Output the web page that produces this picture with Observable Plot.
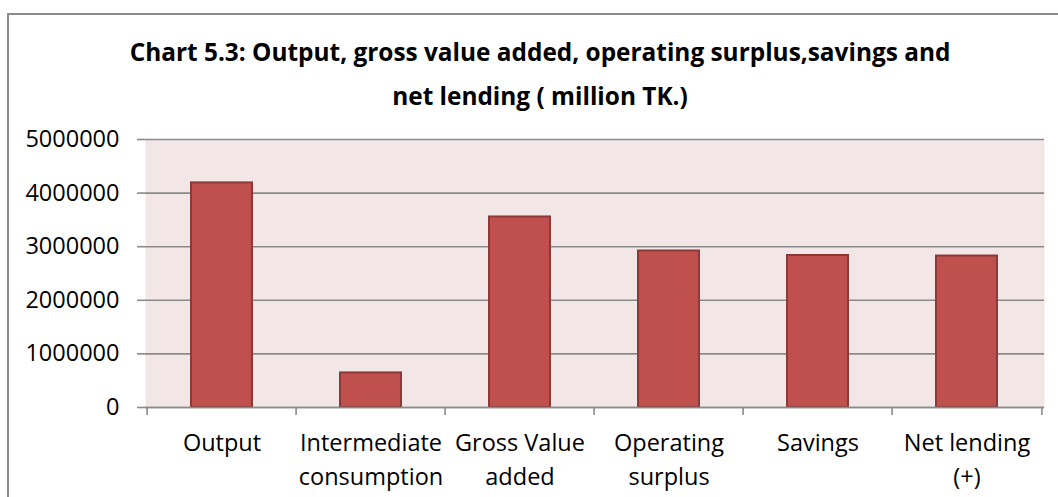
<!DOCTYPE html>
<html>
<head>
<meta charset="utf-8">
<script src="https://cdn.jsdelivr.net/npm/d3@7"></script>
<script src="https://cdn.jsdelivr.net/npm/@observablehq/plot@0.6"></script>
<style>
  html, body { margin: 0; padding: 0; background: #fff; overflow: hidden; width: 1058px; height: 497px; }
  #wrap { position: relative; width: 1058px; height: 497px; }
  #border { position: absolute; left: 7px; top: 13px; width: 1100px; height: 600px; border: 2px solid #8c8c8c; box-sizing: border-box; pointer-events: none; }
  #title { position: absolute; left: 0; top: 30px; width: 1080px; text-align: center; font-family: "Open Sans", sans-serif; font-weight: bold; font-size: 24.4px; line-height: 44px; color: #000; }
  #chart { position: absolute; left: 0; top: 105px; }
</style>
</head>
<body>
<div id="wrap">
  <div id="border"></div>
  <div id="title">Chart 5.3: Output, gross value added, operating surplus,savings and<br>net lending ( million TK.)</div>
  <div id="chart"></div>
</div>
<script>
const categories = ["Output", "Intermediate consumption", "Gross Value added", "Operating surplus", "Savings", "Net lending (+)"];
const tickLabels = ["Output", "Intermediate\nconsumption", "Gross Value\nadded", "Operating\nsurplus", "Savings", "Net lending\n(+)"];
const values = [4190000, 645000, 3555000, 2920000, 2836000, 2826000];
const yTicks = [0, 1000000, 2000000, 3000000, 4000000, 5000000];

const data = categories.map((c, i) => ({category: c, value: values[i]}));
const labelOf = new Map(categories.map((c, i) => [c, tickLabels[i]]));

const W = 1058, H = 392;
const mL = 145, mR = 14, mT = 34, mB = 90;
const step = (W - mL - mR) / categories.length;
const gray = "#8a8a8a";
const fs = 23.5;

const chart = Plot.plot({
  width: W,
  height: H,
  marginLeft: mL,
  marginRight: mR,
  marginTop: mT,
  marginBottom: mB,
  style: {fontFamily: "'Open Sans', sans-serif", fontSize: fs + "px", color: "#000", background: "transparent"},
  x: {domain: categories, paddingInner: 0.59, paddingOuter: 0.295, label: null},
  y: {domain: [0, 5000000], ticks: yTicks, label: null},
  marks: [
    Plot.frame({fill: "#f2e7e6", stroke: null}),
    Plot.gridY(yTicks, {stroke: gray, strokeOpacity: 1, strokeWidth: 1.6}),
    Plot.barY(data, {x: "category", y: "value", fill: "#c0504d", stroke: "#8b3a38", strokeWidth: 2}),
    Plot.ruleY([0], {stroke: gray, strokeWidth: 1.6}),
    Plot.ruleX([0], {x: () => null, frameAnchor: "left", stroke: gray, strokeWidth: 1.6}),
    Plot.axisY(yTicks, {tickSize: 8, tickPadding: 18, stroke: gray, strokeWidth: 1.6, tickFormat: d => String(d), fontSize: fs, fill: "#000"}),
    Plot.ruleX(categories, {x: d => d, dx: -step / 2, y1: 0, y2: 0, insetBottom: -8, stroke: gray, strokeWidth: 1.6}),
    Plot.ruleX([categories[categories.length - 1]], {x: d => d, dx: step / 2, y1: 0, y2: 0, insetBottom: -8, stroke: gray, strokeWidth: 1.6}),
    Plot.axisX({tickSize: 0, tickPadding: 20, tickFormat: d => labelOf.get(d), lineHeight: 1.42, fontSize: fs, fill: "#000"})
  ]
});
document.getElementById("chart").appendChild(chart);
</script>
</body>
</html>
